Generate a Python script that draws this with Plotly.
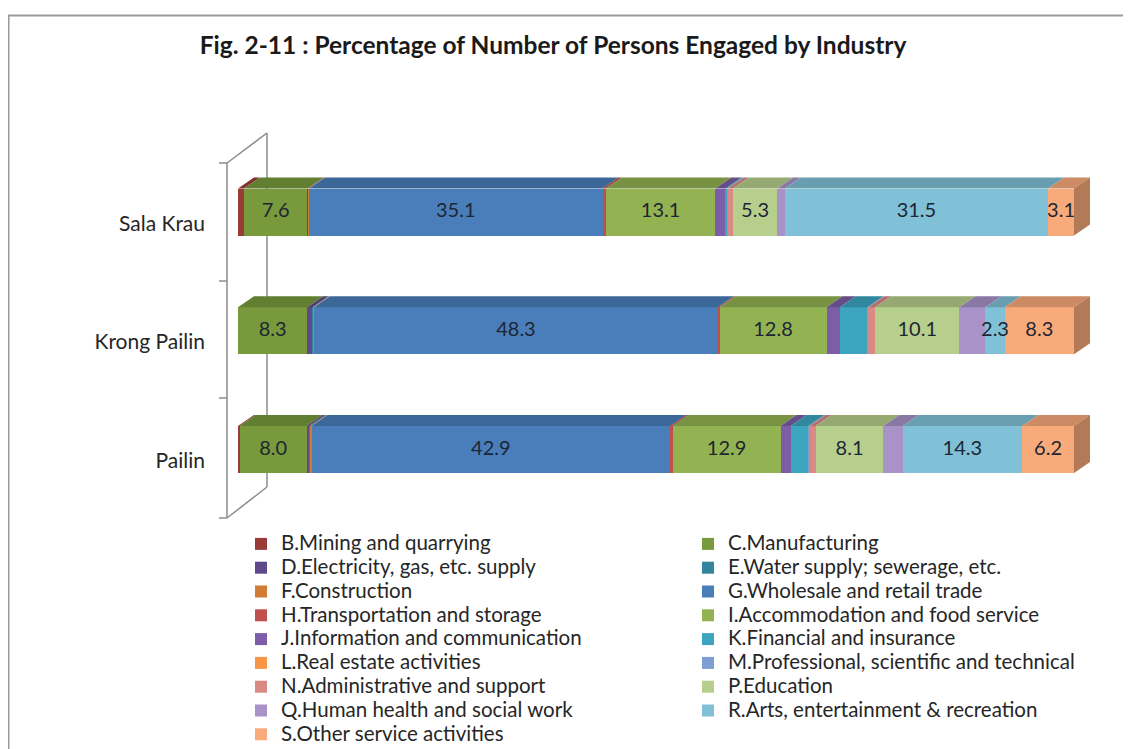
import plotly.graph_objects as go

# ---------------- data ----------------
categories = ["Pailin", "Krong Pailin", "Sala Krau"]          # bottom -> top
industries = [
    "B.Mining and quarrying", "C.Manufacturing",
    "D.Electricity, gas, etc. supply", "E.Water supply; sewerage, etc.",
    "F.Construction", "G.Wholesale and retail trade",
    "H.Transportation and storage", "I.Accommodation and food service",
    "J.Information and communication", "K.Financial and insurance",
    "L.Real estate activities", "M.Professional, scientific and technical",
    "N.Administrative and support", "P.Education",
    "Q.Human health and social work", "R.Arts, entertainment & recreation",
    "S.Other service activities",
]
# values per industry, order = [Pailin, Krong Pailin, Sala Krau]
B = [0.2, 0.0, 0.7]
C = [8.0, 8.3, 7.6]
D = [0.3, 0.6, 0.1]
E = [0.2, 0.1, 0.0]
F = [0.1, 0.1, 0.1]
G = [42.9, 48.3, 35.1]
H = [0.3, 0.2, 0.4]
I = [12.9, 12.8, 13.1]
J = [1.2, 1.6, 1.2]
K = [2.1, 3.3, 0.2]
L = [0.0, 0.0, 0.0]
M = [0.2, 0.1, 0.1]
N = [0.7, 0.8, 0.6]
P = [8.1, 10.1, 5.3]
Q = [2.3, 3.1, 0.9]
R = [14.3, 2.3, 31.5]
S = [6.2, 8.3, 3.1]
series_values = [B, C, D, E, F, G, H, I, J, K, L, M, N, P, Q, R, S]
labelled = {"C", "G", "I", "P", "R", "S"}

colors = ["#9B3B38", "#789A3C", "#5E4A8A", "#31859C", "#D27B34", "#4A7EBB",
          "#C0504D", "#93B352", "#7B5EA7", "#3CA6C1", "#F79646", "#7F9ED2",
          "#DA8A85", "#B7CF8C", "#A892C8", "#80C1D7", "#F9AA7A"]

# ---------------- geometry (screen pixels; page body has an 8px margin) ----------------
OFF = 8
SW, SH = 1131, 749
W, Hh = SW - OFF, SH - OFF
PL, PR, PT, PB = 215, 1121, 125, 525
X0_PX, PX_PER_PCT = 238.0, 8.36
Y0_PX, PX_PER_CAT = 449.5, 118.75
BAR_W = 47 / PX_PER_CAT
DX = 16 / PX_PER_PCT
DY = 11 / PX_PER_CAT

xr = [(PL - X0_PX) / PX_PER_PCT, (PR - X0_PX) / PX_PER_PCT]
yr = [(Y0_PX - PB) / PX_PER_CAT, (Y0_PX - PT) / PX_PER_CAT]


def pxx(p):
    return (p - PL) / (PR - PL)


def pxy(p):
    return (PB - p) / (PB - PT)


def darker(hexc, f):
    h = hexc.lstrip("#")
    r, g, b = (int(h[i:i + 2], 16) for i in (0, 2, 4))
    return "rgb(%d,%d,%d)" % (r * f, g * f, b * f)


FONT = "Lato, 'Open Sans', sans-serif"
ypos = list(range(len(categories)))

fig = go.Figure()
for k, (name, vals, col) in enumerate(zip(industries, series_values, colors)):
    fig.add_trace(go.Bar(
        y=ypos, x=vals, orientation="h",
        name=f'<span style="font-size:20.5px">{name}</span>',
        legend="legend" if k % 2 == 0 else "legend2",
        width=BAR_W,
        marker=dict(color=col, line=dict(width=0)),
        hovertemplate=name + ": %{x}<extra></extra>",
    ))

# 3-D top faces, side face and value labels
cum = [0.0] * len(categories)
lx, ly, lt = [], [], []
for name, vals, col in zip(industries, series_values, colors):
    xs, ys = [], []
    for j, v in enumerate(vals):
        if v <= 0:
            continue
        x0, x1 = cum[j], cum[j] + v
        yt = ypos[j] + BAR_W / 2
        xs += [x0, x1, x1 + DX, x0 + DX, x0, None]
        ys += [yt, yt, yt + DY, yt + DY, yt, None]
        if name[0] in labelled:
            lx.append((x0 + x1) / 2)
            ly.append(ypos[j])
            lt.append(f"{v:.1f}")
    for j, v in enumerate(vals):
        cum[j] += v
    if xs:
        fig.add_trace(go.Scatter(x=xs, y=ys, mode="lines", fill="toself",
                                 fillcolor=darker(col, 0.82), line=dict(width=0),
                                 showlegend=False, hoverinfo="skip"))
sx, sy = [], []
for j in range(len(categories)):
    yb, yt = ypos[j] - BAR_W / 2, ypos[j] + BAR_W / 2
    xe = cum[j]
    sx += [xe, xe + DX, xe + DX, xe, xe, None]
    sy += [yb, yb + DY, yt + DY, yt, yb, None]
fig.add_trace(go.Scatter(x=sx, y=sy, mode="lines", fill="toself",
                         fillcolor=darker(colors[-1], 0.72), line=dict(width=0),
                         showlegend=False, hoverinfo="skip"))
fig.add_trace(go.Scatter(x=lx, y=ly, text=lt, mode="text", textposition="middle center",
                         textfont=dict(family=FONT, size=20, color="#1d2633"),
                         showlegend=False, hoverinfo="skip", cliponaxis=False))

# decorative wall and frame (paper coordinates)
gray = "#8c8c8c"
shapes = []


def seg(x0, y0, x1, y1, w=1.5, c=gray):
    shapes.append(dict(type="line", xref="paper", yref="paper",
                       x0=pxx(x0), y0=pxy(y0), x1=pxx(x1), y1=pxy(y1),
                       line=dict(color=c, width=w), layer="below"))


seg(227, 163, 227, 518)
for yy in (163, 281, 398, 518):
    seg(219, yy, 227, yy)
seg(227, 163, 267, 133)
seg(267, 133, 267, 487)
seg(227, 518, 267, 487)
shapes.append(dict(type="rect", xref="paper", yref="paper",
                   x0=pxx(8.5), y0=pxy(15.5), x1=pxx(1160), y1=pxy(780),
                   line=dict(color="#9a9a9a", width=2), fillcolor="rgba(0,0,0,0)",
                   layer="below"))

legend_common = dict(orientation="v", xanchor="left", yanchor="top",
                     traceorder="normal", y=pxy(527),
                     font=dict(family=FONT, size=16, color="#262626"),
                     bgcolor="rgba(0,0,0,0)", borderwidth=0)

fig.update_layout(
    width=W, height=Hh,
    margin=dict(l=PL - OFF, r=SW - PR, t=PT - OFF, b=SH - PB, pad=0,
                autoexpand=False),
    barmode="stack", bargap=0,
    paper_bgcolor="white", plot_bgcolor="rgba(0,0,0,0)",
    font=dict(family=FONT, color="#262626"),
    title=dict(text="<b>Fig. 2-11 : Percentage of Number of Persons Engaged by Industry</b>",
               x=(553 - OFF) / W, xanchor="center", xref="container",
               y=1 - (45 - OFF) / Hh, yanchor="middle", yref="container",
               font=dict(family=FONT, size=24.5, color="#1a1a1a")),
    xaxis=dict(range=xr, visible=False, showgrid=False, zeroline=False),
    yaxis=dict(range=yr, showgrid=False, zeroline=False, showline=False,
               automargin=False,
               tickvals=[p - 0.095 for p in ypos], ticktext=categories,
               ticks="", ticklabelstandoff=9,
               tickfont=dict(family=FONT, size=21, color="#262626")),
    legend=dict(x=pxx(241), **legend_common),
    legend2=dict(x=pxx(688), **legend_common),
    shapes=shapes,
    showlegend=True,
)

fig.write_html("out.html")
